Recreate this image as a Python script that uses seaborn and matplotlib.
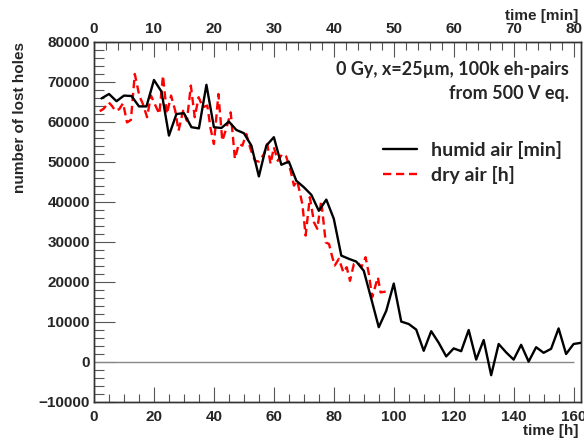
import numpy as np
import pandas as pd
import seaborn as sns
import matplotlib.pyplot as plt
from matplotlib.ticker import MultipleLocator

# humid air : time in minutes (top axis)
humid_min = [1.25, 2.5, 3.75, 5, 6.25, 7.5, 8.75, 10, 11.25, 12.5, 13.75, 15, 16.25,
             17.5, 18.75, 20, 21.25, 22.5, 23.75, 25, 26.25, 27.5, 28.75, 30, 31.25,
             32.5, 33.75, 35, 36.25, 37.5, 38.75, 40, 41.25, 42.5, 43.75, 45, 46.25,
             47.5, 48.75, 50, 51.25, 52.5, 53.75, 55, 56.25, 57.5, 58.75, 60, 61.25,
             62.5, 63.75, 65, 66.25, 67.5, 68.75, 70, 71.25, 72.5, 73.75, 75, 76.25,
             77.5, 78.75, 80, 81.25]
humid_holes = [65900, 67000, 65200, 66600, 66500, 63900, 63900, 70500, 67600, 56600,
               62000, 62200, 58700, 58400, 69300, 58700, 58500, 60100, 58000, 57200,
               54100, 46400, 54100, 56200, 49300, 50100, 45300, 43700, 41800, 37800,
               40600, 35800, 26600, 25800, 25100, 22800, 15800, 8700, 12800, 19600,
               10100, 9500, 8100, 2800, 7700, 4800, 1400, 3400, 2700, 8000,
               600, 5500, -3300, 4500, 2400, 600, 4300, 100, 3700, 2300,
               3300, 8400, 2000, 4500, 4800]

# dry air : time in hours (bottom axis)
dry_h = [1.9, 3.2, 4.9, 6.0, 7.1, 8.4, 9.7, 11.0, 12.3, 13.6,
         15.1, 16.3, 17.7, 19.0, 20.5, 21.8, 23.0, 24.3, 25.7, 27.1,
         28.2, 29.7, 31.0, 32.3, 33.6, 34.9, 36.3, 37.8, 38.9, 40.0,
         41.5, 42.8, 44.1, 45.6, 47.0, 48.3, 49.5, 50.8, 52.2, 53.7,
         55.0, 56.7, 57.8, 58.9, 60.0, 61.3, 62.8, 64.1, 65.6, 66.7,
         67.8, 69.5, 70.6, 72.0, 73.4, 74.5, 75.8, 76.7, 77.3, 78.4,
         79.5, 80.3, 81.7, 83.2, 84.3, 85.4, 86.7, 88.0, 89.2, 90.6,
         91.7, 92.8, 93.9, 94.7, 95.6, 97.3]
dry_holes = [62700, 63300, 64900, 64000, 62800, 63200, 64700, 59900, 60500, 72000,
             66600, 64500, 61200, 66600, 64100, 62000, 71600, 62000, 66600, 62800,
             57800, 62800, 60300, 69100, 61200, 66200, 63700, 64100, 58300, 54500,
             67000, 55300, 58300, 62400, 50800, 54500, 54100, 57000, 53300, 50300,
             50100, 52000, 54500, 49500, 53700, 50300, 52000, 51400, 47800, 44100,
             45300, 39500, 31600, 41200, 34900, 33300, 40300, 34100, 29900, 29500,
             26200, 24100, 25800, 22400, 23700, 20300, 24500, 24900, 23700, 26200,
             22000, 16200, 19100, 21200, 17400, 17600]

df_humid = pd.DataFrame({"t": humid_min, "n": humid_holes})
df_dry = pd.DataFrame({"t": dry_h, "n": dry_holes})

sns.set_style("ticks")
plt.rcParams['font.family'] = ['Liberation Sans', 'DejaVu Sans']
plt.rcParams['font.weight'] = 'bold'

fig = plt.figure(figsize=(5.84, 4.42), dpi=100)
ax = fig.add_axes([0.161, 0.0905, 0.834, 0.8145])

# dry air on bottom axis (hours)
sns.lineplot(data=df_dry, x="t", y="n", ax=ax, color="red", lw=1.7,
             linestyle=(0, (3.5, 2)), estimator=None, sort=False, label="dry air [h]",
             legend=False)
ax.hlines(0, 0, 160, color="#888888", lw=1)
ax.set_xlim(0, 162.5)
ax.set_ylim(-10000, 80000)

# humid air on top axis (minutes)
ax2 = ax.twiny()
sns.lineplot(data=df_humid, x="t", y="n", ax=ax2, color="black", lw=1.7,
             estimator=None, sort=False, label="humid air [min]", legend=False)
ax2.set_xlim(0, 81.25)

fs = 11
ax.xaxis.set_major_locator(MultipleLocator(20))
ax.xaxis.set_minor_locator(MultipleLocator(5))
ax.yaxis.set_major_locator(MultipleLocator(10000))
ax.yaxis.set_minor_locator(MultipleLocator(2000))
ax2.xaxis.set_major_locator(MultipleLocator(10))
ax2.xaxis.set_minor_locator(MultipleLocator(2))

ax.tick_params(axis='x', which='major', direction='in', length=11, width=0.8,
               labelsize=fs, pad=6, top=False, color='#555555')
ax.tick_params(axis='x', which='minor', direction='in', length=5.5, width=0.8,
               top=False, color='#555555')
ax.tick_params(axis='y', which='major', direction='in', length=15, width=0.8,
               labelsize=fs, pad=3, right=False, color='#555555')
ax.tick_params(axis='y', which='minor', direction='in', length=7.5, width=0.8,
               right=False, color='#555555')
ax2.tick_params(axis='x', which='major', direction='in', length=11, width=0.8,
                labelsize=fs, pad=4, color='#555555')
ax2.tick_params(axis='x', which='minor', direction='in', length=5.5, width=0.8,
                color='#555555')

for a in (ax, ax2):
    for s in a.spines.values():
        s.set_linewidth(1)
        s.set_color('#333333')

ax.set_ylabel("number of lost holes", fontsize=fs, fontweight='bold', loc='top')
ax.yaxis.set_label_coords(-0.138, 1.0)
ax.set_xlabel("time [h]", fontsize=fs, fontweight='bold', loc='right')
ax.xaxis.set_label_coords(0.995, -0.062)
ax2.set_xlabel("time [min]", fontsize=fs, fontweight='bold', loc='right')
ax2.xaxis.set_label_coords(0.995, 1.062)

# legend
h2, l2 = ax2.get_legend_handles_labels()
h1, l1 = ax.get_legend_handles_labels()
fig.legend(h2 + h1, l2 + l1, loc='upper left', bbox_to_anchor=(383 / 584, 1 - 141 / 442),
           bbox_transform=fig.transFigure, frameon=False, borderpad=0, borderaxespad=0,
           handlelength=1.75, handletextpad=0.7, labelspacing=0.35,
           prop={'family': 'Lato', 'weight': 'bold', 'size': 14})

fig.text(569 / 584, 1 - 70 / 442, "0 Gy, x=25µm, 100k eh-pairs", ha='right', va='center',
         family='Lato', fontweight='bold', fontsize=13)
fig.text(569 / 584, 1 - 93 / 442, "from 500 V eq.", ha='right', va='center',
         family='Lato', fontweight='bold', fontsize=13)

fig.savefig("out.png", dpi=100)
